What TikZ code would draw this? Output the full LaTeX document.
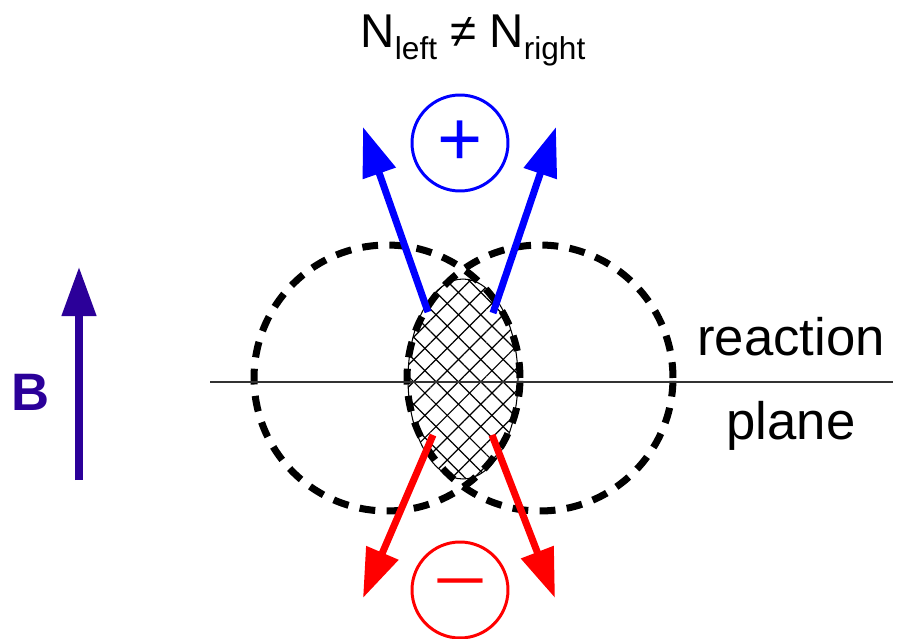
\documentclass[tikz,border=0pt]{standalone}
\usepackage{fontspec}
\setmainfont{Liberation Sans}
\newfontfamily\thinfont{Liberation Serif}
\usetikzlibrary{arrows.meta,shapes.geometric,patterns.meta}
\definecolor{fieldcol}{RGB}{43,0,153}
\newcommand{\lowsub}[1]{\raisebox{-6.8pt}{\fontsize{18}{18}\selectfont #1}}

\begin{document}
\begin{tikzpicture}[x=0.02cm, y=-0.02cm,
  nucleus/.style={circle, draw, line width=4pt, dash pattern=on 9pt off 6.5pt, minimum size=5.32cm, inner sep=0pt},
  overlapzone/.style={ellipse, draw, line width=0.6pt, minimum width=2.2cm, minimum height=4cm, inner sep=0pt,
    pattern={Lines[angle=45,distance=9pt,line width=0.7pt]},
    postaction={pattern={Lines[angle=-45,distance=9pt,line width=0.7pt]}}},
  charge/.style={circle, draw, line width=1.7pt, minimum size=1.92cm, inner sep=0pt},
  track/.style={line width=4pt, -{Triangle[length=28pt,width=19pt]}},
  planetext/.style={anchor=base, font=\fontsize{30}{30}\selectfont}]
  \useasboundingbox (0,0) rectangle (900,639);

  % participant region and the two nuclei
  \node[overlapzone] (overlap) at (463,379) {};
  \node[nucleus] (nucL) at (387,378) {};
  \node[nucleus] (nucR) at (540,378) {};

  % reaction plane
  \coordinate (planeL) at (210,382);
  \coordinate (planeR) at (893,382);
  \draw[line width=0.8pt, black!80] (planeL) -- (planeR);
  \node[planetext] (reac) at (791,355) {reaction};
  \node[planetext] (plane) at (791,439) {plane};

  % title
  \node[anchor=base, font=\fontsize{27}{27}\selectfont] (title) at (473,48) {N\lowsub{left} ≠ N\lowsub{right}};

  % charges
  \node[charge, blue, font=\fontsize{44}{44}\selectfont] (pos) at (460,143) {+};
  \node[charge, red, font=\fontsize{50}{50}\thinfont] (neg) at (460,590) {–};

  \coordinate (upL0) at (428,312);  \coordinate (upL1) at (363,127);
  \coordinate (upR0) at (493,313);  \coordinate (upR1) at (556,127);
  \coordinate (dnL0) at (433,435);  \coordinate (dnL1) at (363,598);
  \coordinate (dnR0) at (492,435);  \coordinate (dnR1) at (555,598);
  \draw[track, blue] (upL0) -- (upL1);
  \draw[track, blue] (upR0) -- (upR1);
  \draw[track, red] (dnL0) -- (dnL1);
  \draw[track, red] (dnR0) -- (dnR1);

  % magnetic field
  \coordinate (Bfoot) at (79,480);
  \coordinate (Bhead) at (79,267);
  \draw[track, fieldcol] (Bfoot) -- (Bhead);
  \node[font=\fontsize{30}{30}\selectfont\bfseries, text=fieldcol] (Blabel) at (31,392) {B};
\end{tikzpicture}
\end{document}
